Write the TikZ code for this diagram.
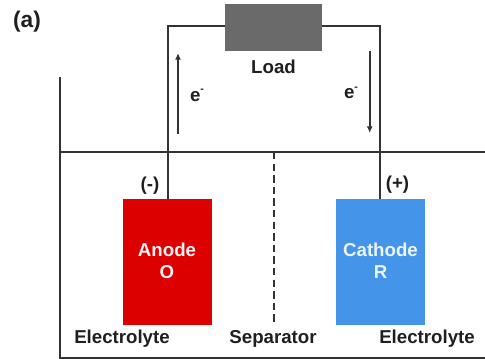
\documentclass[tikz,border=0pt]{standalone}
\usepackage{fontspec}
\setmainfont{Liberation Sans}
\definecolor{anodered}{HTML}{DC0000}
\definecolor{cathblue}{HTML}{4494EA}
\definecolor{loadgrey}{HTML}{6A6A6A}
\definecolor{linedark}{HTML}{333333}
\usetikzlibrary{arrows.meta}
\tikzset{
  lbl/.style={inner sep=0pt,font=\fontsize{14}{16}\selectfont\bfseries,text=black!88},
  wire/.style={draw=linedark,line width=1.5pt},
  tank/.style={draw=linedark,line width=1.5pt},
  flow/.style={draw=linedark,line width=1.4pt,-{Latex[length=5pt,width=4.5pt]}},
  electrode/.style={minimum width=#1,minimum height=95pt,inner sep=0pt,outer sep=0pt,align=center,
    font=\fontsize{14}{20}\selectfont\bfseries,text=white}
}
\begin{document}
\begin{tikzpicture}[x=0.75pt,y=-0.75pt]
\useasboundingbox (0,0) rectangle (485,359);
% container
\coordinate (tankTL) at (60,77);
\coordinate (tankBL) at (60,358);
\coordinate (tankBR) at (485,358);
\coordinate (levelL) at (59,152);
\coordinate (levelR) at (485,152);
\draw[tank] (tankTL) -- (tankBL) -- (tankBR);
\draw[tank] (levelL) -- (levelR);
% load and electrodes
\node[fill=loadgrey,minimum width=72.75pt,minimum height=35.25pt,inner sep=0pt,outer sep=0pt] (load) at (273.5,27.5) {};
\node[electrode=67pt,fill=anodered] (anode) at (167.25,262) {};
\node[electrode=66.4pt,fill=cathblue] (cathode) at (380.25,262) {};
\node[font=\fontsize{14}{16}\selectfont\bfseries,text=white!95!red,inner sep=0pt] (anodeT) at (167,249.5) {Anode};
\node[font=\fontsize{14}{16}\selectfont\bfseries,text=white!95!red,inner sep=0pt] (anodeO) at (167,272) {O};
\node[font=\fontsize{14}{16}\selectfont\bfseries,text=white!90!cathblue,inner sep=0pt] (cathT) at (380.5,249.5) {Cathode};
\node[font=\fontsize{14}{16}\selectfont\bfseries,text=white!90!cathblue,inner sep=0pt] (cathR) at (380.5,272) {R};
% wires
\coordinate (cornerL) at (167.5,26.5);
\coordinate (cornerR) at (380,26.5);
\draw[wire] (load.west |- cornerL) -- (cornerL) -- (cornerL |- anode.north);
\draw[wire] (load.east |- cornerR) -- (cornerR) -- (cornerR |- cathode.north);
% electron arrows
\coordinate (upS) at (178,134);
\coordinate (upE) at (178,53);
\coordinate (downS) at (369.7,51);
\coordinate (downE) at (369.7,133);
\draw[flow] (upS) -- (upE);
\draw[flow] (downS) -- (downE);
% separator
\coordinate (sepT) at (274,152);
\coordinate (sepB) at (274,325);
\draw[draw=linedark,line width=1.8pt,dash pattern=on 5.5pt off 3.2pt] (sepT) -- (sepB);
% labels
\node[lbl,font=\fontsize{17}{20}\selectfont\bfseries] (panel) at (27,22) {(a)};
\node[lbl] (loadT) at (273.5,67) {Load};
\node[lbl] (eL) at (197,95.5) {e\raisebox{0.45em}{\fontsize{8}{9}\selectfont -}};
\node[lbl] (eR) at (351,93) {e\raisebox{0.45em}{\fontsize{8}{9}\selectfont -}};
\node[lbl] (minus) at (150,186) {(-)};
\node[lbl] (plus) at (397.5,185) {(+)};
\node[lbl] (elL) at (122,339) {Electrolyte};
\node[lbl] (sep) at (273,339) {Separator};
\node[lbl] (elR) at (427,339) {Electrolyte};
\end{tikzpicture}
\end{document}
